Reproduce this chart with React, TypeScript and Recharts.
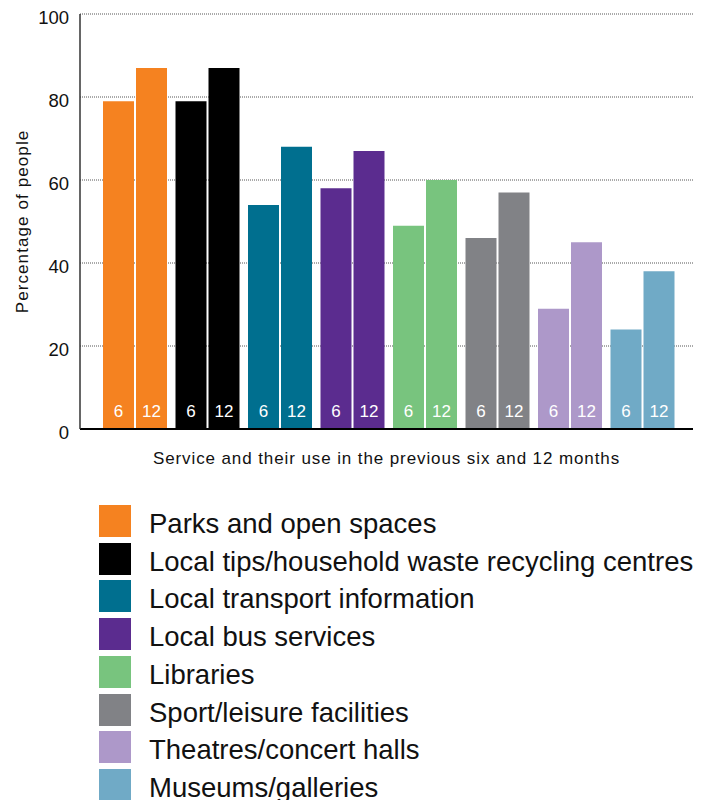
import { BarChart, Bar, XAxis, YAxis, CartesianGrid, Cell, LabelList } from "recharts";

const services = [
  "Parks and open spaces",
  "Local tips/household waste recycling centres",
  "Local transport information",
  "Local bus services",
  "Libraries",
  "Sport/leisure facilities",
  "Theatres/concert halls",
  "Museums/galleries"
];
const sixMonths = [79, 79, 54, 58, 49, 46, 29, 24];
const twelveMonths = [87, 87, 68, 67, 60, 57, 45, 38];
const colors = ["#f58220", "#000000", "#006f8f", "#5b2c8f", "#78c47e", "#818286", "#ad98c9", "#70aac6"];
const yTicks = [0, 20, 40, 60, 80, 100];

const data = services.map((name, i) => ({
  name,
  six: sixMonths[i],
  twelve: twelveMonths[i]
}));

const font = "'Liberation Sans', Arial, sans-serif";

function YTick({ x, y, payload }: any) {
  return (
    <text x={x} y={y + 3} textAnchor="end" dominantBaseline="central" fontSize={18.5} fill="#111" fontFamily={font}>
      {payload.value}
    </text>
  );
}

function periodLabel(text: string) {
  return (props: any) => {
    const { x, y, width, height } = props;
    return (
      <text x={x + width / 2} y={y + height - 12} textAnchor="middle" fontSize={17} fill="#fff" fontFamily={font}>
        {text}
      </text>
    );
  };
}

export default function App() {
  return (
    <div style={{ position: "absolute", left: 0, top: 0, width: 713, height: 800, background: "#fff", fontFamily: font }}>
      <BarChart
        width={713}
        height={470}
        data={data}
        margin={{ top: 14, right: 20, bottom: 0, left: 0 }}
        barGap={2}
        barSize={31}
      >
        <CartesianGrid vertical={false} stroke="#555" strokeDasharray="1 1" />
        <XAxis
          dataKey="name"
          tick={false}
          tickLine={false}
          axisLine={{ stroke: "#000", strokeWidth: 2 }}
          height={41}
          padding={{ left: 19, right: 14 }}
          label={{
            value: "Service and their use in the previous six and 12 months",
            position: "insideBottom",
            offset: 6,
            fontSize: 17,
            fill: "#111",
            fontFamily: font,
            letterSpacing: 0.9
          }}
        />
        <YAxis
          domain={[0, 100]}
          ticks={yTicks}
          width={80}
          tickLine={false}
          tickMargin={5}
          axisLine={{ stroke: "#333", strokeWidth: 1.5 }}
          tick={<YTick />}
          label={{
            value: "Percentage of people",
            angle: -90,
            position: "insideLeft",
            offset: 22,
            fontSize: 17,
            fill: "#111",
            fontFamily: font,
            letterSpacing: 1.1,
            style: { textAnchor: "middle" }
          }}
        />
        <Bar dataKey="six" isAnimationActive={false}>
          {data.map((d, i) => (
            <Cell key={d.name} fill={colors[i]} />
          ))}
          <LabelList dataKey="six" content={periodLabel("6")} />
        </Bar>
        <Bar dataKey="twelve" isAnimationActive={false}>
          {data.map((d, i) => (
            <Cell key={d.name} fill={colors[i]} />
          ))}
          <LabelList dataKey="twelve" content={periodLabel("12")} />
        </Bar>
      </BarChart>

      {/* Legend */}
      {services.map((name, i) => (
        <div
          key={name}
          style={{ position: "absolute", left: 99, top: 505 + i * 37.7, height: 32, display: "flex", alignItems: "center" }}
        >
          <div style={{ width: 32, height: 32, background: colors[i] }} />
          <span style={{ marginLeft: 18, fontSize: 27.5, lineHeight: "32px", color: "#111", position: "relative", top: 3, whiteSpace: "nowrap" }}>
            {name}
          </span>
        </div>
      ))}
    </div>
  );
}
